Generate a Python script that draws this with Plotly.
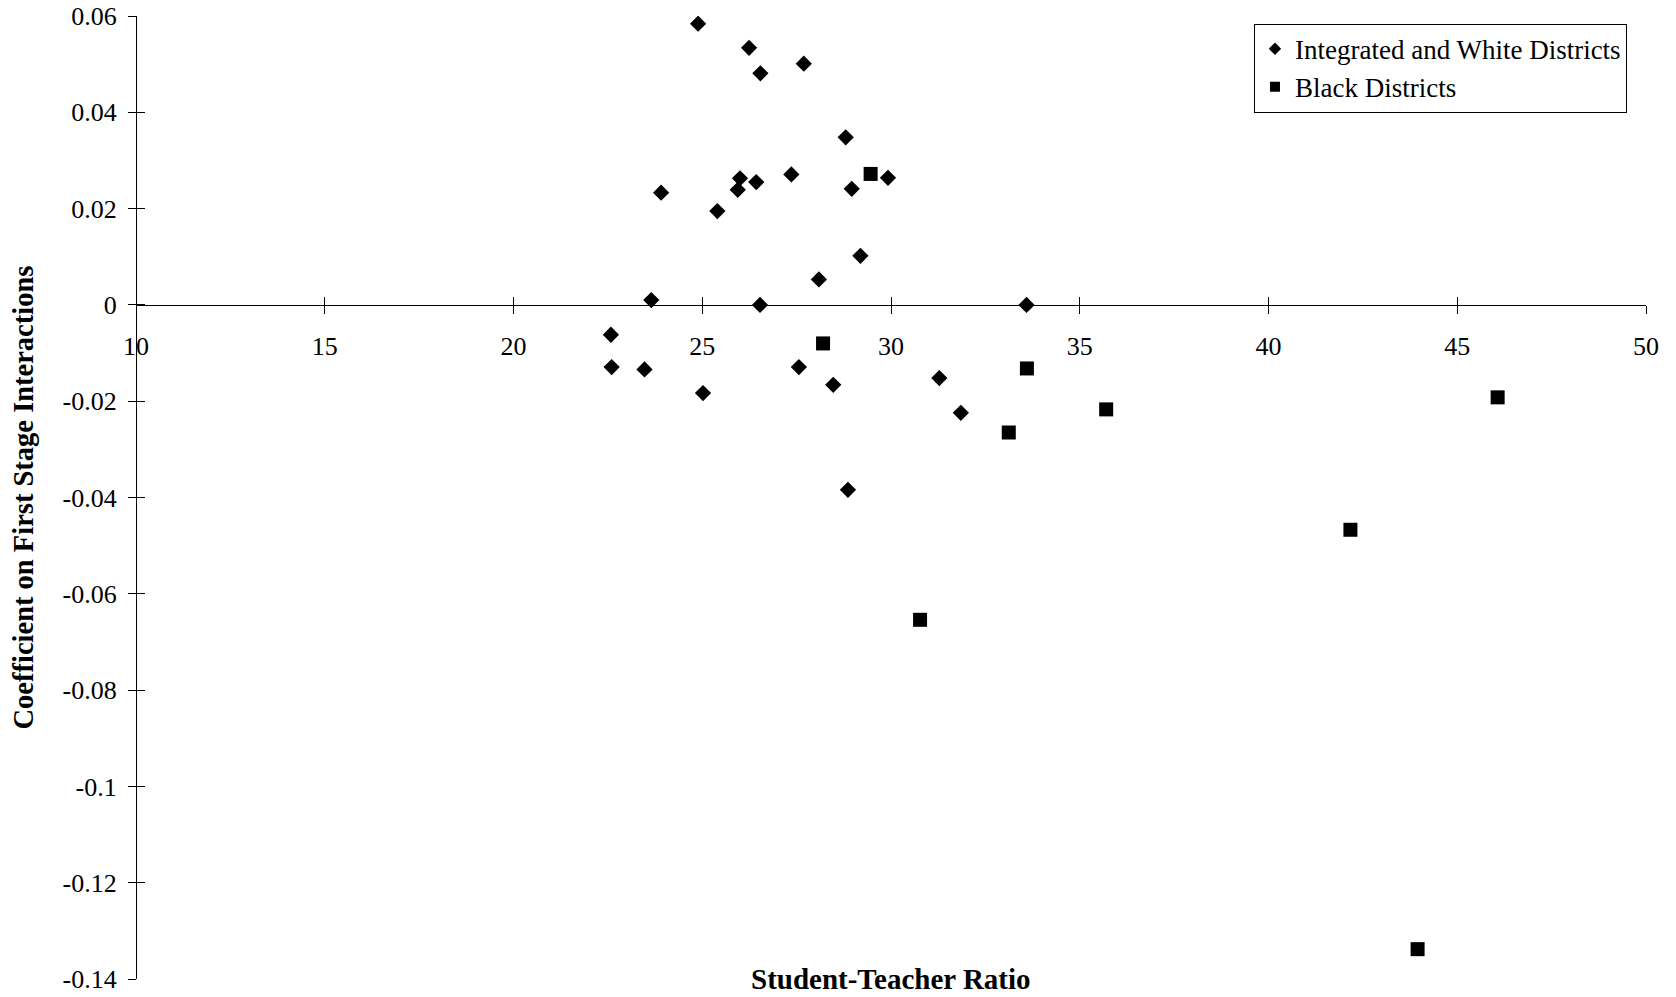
import plotly.graph_objects as go

# ---- data ----
white_x = [24.89, 26.24, 26.54, 27.69, 28.80, 23.91, 26.00, 25.94, 26.43, 27.36,
           25.40, 28.96, 29.92, 29.19, 28.09, 23.65, 26.53, 33.59, 22.58, 22.60,
           23.47, 25.02, 27.56, 28.47, 31.28, 31.85, 28.86]
white_y = [0.0584, 0.0534, 0.0481, 0.0501, 0.0348, 0.0233, 0.0263, 0.0239, 0.0255, 0.0271,
           0.0195, 0.0241, 0.0264, 0.0102, 0.0053, 0.0010, 0.0000, 0.0000, -0.0062, -0.0129,
           -0.0134, -0.0183, -0.0129, -0.0166, -0.0152, -0.0224, -0.0384]

black_x = [29.46, 28.20, 33.60, 33.12, 35.70, 30.77, 42.17, 46.07, 43.95]
black_y = [0.0272, -0.0080, -0.0132, -0.0265, -0.0217, -0.0654, -0.0467, -0.0192, -0.1338]

x_ticks = [10, 15, 20, 25, 30, 35, 40, 45, 50]
x_ticktext = ["10", "15", "20", "25", "30", "35", "40", "45", "50"]
y_ticks = [0.06, 0.04, 0.02, 0, -0.02, -0.04, -0.06, -0.08, -0.1, -0.12, -0.14]
y_ticktext = ["0.06", "0.04", "0.02", "0", "-0.02", "-0.04", "-0.06", "-0.08", "-0.1", "-0.12", "-0.14"]

x_range = [10, 50]
y_range = [-0.14, 0.06]

FONT = "Liberation Serif, Times New Roman, serif"

fig = go.Figure()

# data traces
fig.add_trace(go.Scatter(x=white_x, y=white_y, mode="markers", showlegend=False,
                         marker=dict(symbol="diamond", size=12.5, color="black")))
fig.add_trace(go.Scatter(x=black_x, y=black_y, mode="markers", showlegend=False,
                         marker=dict(symbol="square", size=14, color="black")))
# legend entries (smaller symbols as in the original legend)
fig.add_trace(go.Scatter(x=[None], y=[None], mode="markers", name="Integrated and White Districts",
                         marker=dict(symbol="diamond", size=9.5, color="black")))
fig.add_trace(go.Scatter(x=[None], y=[None], mode="markers", name="Black Districts",
                         marker=dict(symbol="square", size=10, color="black")))
# empty trace to carry the overlay axes (inner half of crossing ticks)
fig.add_trace(go.Scatter(x=[None], y=[None], xaxis="x2", yaxis="y2", showlegend=False))

zero_pos = (0 - y_range[0]) / (y_range[1] - y_range[0])

axis_common = dict(showgrid=False, zeroline=False, tickcolor="black", tickwidth=1.3,
                   ticklen=8, automargin=False,
                   tickfont=dict(family=FONT, size=26, color="black"))

fig.update_layout(
    width=1676, height=997,
    margin=dict(l=136, r=30, t=16, b=18, autoexpand=False),
    paper_bgcolor="white", plot_bgcolor="white",
    font=dict(family=FONT, color="black"),
    xaxis=dict(range=x_range, anchor="free", position=zero_pos,
               tickmode="array", tickvals=x_ticks, ticktext=x_ticktext,
               ticks="outside", showline=True, linecolor="black", linewidth=1.3,
               ticklabelstandoff=10, **axis_common),
    yaxis=dict(range=y_range, anchor="free", position=0,
               tickmode="array", tickvals=y_ticks, ticktext=y_ticktext,
               ticks="outside", showline=True, linecolor="black", linewidth=1.3,
               ticklabelstandoff=6, **axis_common),
    xaxis2=dict(range=x_range, overlaying="x", anchor="free", position=zero_pos,
                tickmode="array", tickvals=x_ticks, ticks="inside",
                showticklabels=False, showline=False, **axis_common),
    yaxis2=dict(range=y_range, overlaying="y", anchor="free", position=0,
                tickmode="array", tickvals=y_ticks, ticks="inside",
                showticklabels=False, showline=False, **axis_common),
    legend=dict(x=0.9874, y=0.992, xanchor="right", yanchor="top",
                bordercolor="black", borderwidth=1, bgcolor="white",
                font=dict(family=FONT, size=27, color="black"),
                itemwidth=30, tracegroupgap=0),
    annotations=[
        dict(text="<b>Student-Teacher Ratio</b>", xref="paper", yref="paper",
             x=0.5, y=0.0, xanchor="center", yanchor="middle", showarrow=False,
             font=dict(family=FONT, size=29, color="black")),
        dict(text="<b>Coefficient on First Stage Interactions</b>", xref="paper", yref="paper",
             x=-0.0742, y=0.5, xanchor="center", yanchor="middle", textangle=-90,
             showarrow=False, font=dict(family=FONT, size=28.5, color="black")),
    ],
)

fig.write_html("out.html")
